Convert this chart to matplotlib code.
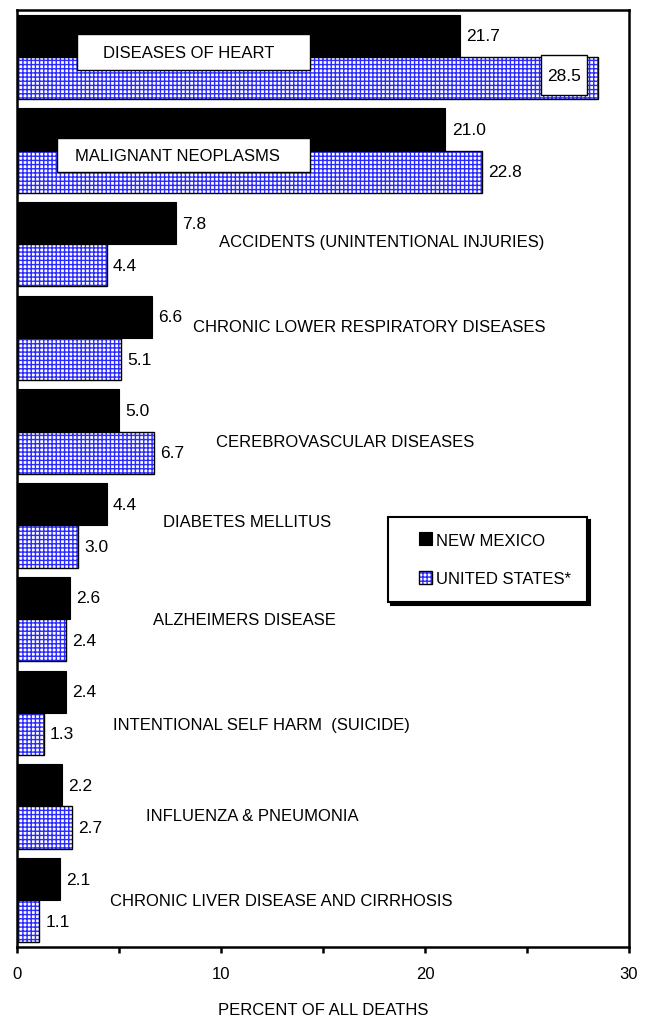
import matplotlib
matplotlib.use("Agg")
import matplotlib.pyplot as plt
import numpy as np
from matplotlib.patches import Patch, Rectangle
from matplotlib.legend_handler import HandlerPatch

plt.rcParams['font.family'] = ['Liberation Sans', 'DejaVu Sans']
plt.rcParams['hatch.linewidth'] = 1.0

categories = ["DISEASES OF HEART", "MALIGNANT NEOPLASMS",
              "ACCIDENTS (UNINTENTIONAL INJURIES)",
              "CHRONIC LOWER RESPIRATORY DISEASES",
              "CEREBROVASCULAR DISEASES", "DIABETES MELLITUS",
              "ALZHEIMERS DISEASE", "INTENTIONAL SELF HARM  (SUICIDE)",
              "INFLUENZA & PNEUMONIA", "CHRONIC LIVER DISEASE AND CIRRHOSIS"]
new_mexico = [21.7, 21.0, 7.8, 6.6, 5.0, 4.4, 2.6, 2.4, 2.2, 2.1]
united_states = [28.5, 22.8, 4.4, 5.1, 6.7, 3.0, 2.4, 1.3, 2.7, 1.1]
series_labels = ["NEW MEXICO", "UNITED STATES*"]
x_ticks = [0, 10, 20, 30]
x_label = "PERCENT OF ALL DEATHS"

BLUE = '#2a2aff'
W, H = 650, 1020
fig = plt.figure(figsize=(W / 100, H / 100), dpi=100)
ax = fig.add_axes([17 / W, 72 / H, 612 / W, 937 / H])

y = np.arange(len(categories))
h = 0.45
ax.barh(y - h / 2, new_mexico, height=h, color='black', edgecolor='black',
        linewidth=0.8, zorder=2)
ax.barh(y + h / 2, united_states, height=h, color='white', edgecolor=BLUE,
        hatch='++++', linewidth=0, zorder=2)
ax.barh(y + h / 2, united_states, height=h, fill=False, edgecolor='black',
        linewidth=1.0, zorder=3)

ax.set_xlim(0, 30)
ax.set_ylim(len(categories) - 0.5, -0.5)
ax.set_yticks([])
ax.set_xticks(x_ticks)
ax.set_xticks([5, 15, 25], minor=True)
ax.tick_params(axis='x', which='both', direction='out', length=4, width=1.8,
               pad=10, labelsize=12)
for s in ax.spines.values():
    s.set_linewidth(1.8)
ax.set_xlabel(x_label, fontsize=12, labelpad=15)

# value labels
for i, v in enumerate(new_mexico):
    ax.annotate(f"{v:.1f}", (v, i - h / 2), xytext=(4.5, 0),
                textcoords='offset points', va='center', ha='left',
                fontsize=12.5, zorder=5)
for i, v in enumerate(united_states):
    if i == 0:
        continue
    ax.annotate(f"{v:.1f}", (v, i + h / 2), xytext=(4.5, 0),
                textcoords='offset points', va='center', ha='left',
                fontsize=12.5, zorder=5)
# boxed label inside heart US bar
ax.add_patch(Rectangle((25.69, -0.02), 2.25, 0.427, facecolor='white',
                       edgecolor='black', linewidth=1.0, zorder=4))
ax.text(26.82, 0.195, f"{united_states[0]:.1f}", ha='center', va='center',
        fontsize=12.5, zorder=5)

# category labels
lab_x = [4.22, 2.84, 9.9, 8.63, 9.75, 7.16, 6.67, 4.7, 6.32, 4.56]
lab_dy = [-0.05, 0.05, -0.03, -0.12, 0.1, -0.04, 0.0, 0.13, 0.1, 0.0]
for i, name in enumerate(categories):
    ax.text(lab_x[i], i + lab_dy[i], name, ha='left', va='center',
            fontsize=12, zorder=5)
ax.add_patch(Rectangle((2.94, -0.244), 14.36 - 2.94, 0.384, facecolor='white',
                       edgecolor='black', linewidth=1.0, zorder=4))
ax.add_patch(Rectangle((1.96, 0.866), 14.36 - 1.96, 0.363, facecolor='white',
                       edgecolor='black', linewidth=1.0, zorder=4))

# legend
def square(legend, orig_handle, xdescent, ydescent, width, height, fontsize):
    s = 9.4
    return Rectangle((-xdescent + width - s, -ydescent + (height - s) / 2), s, s)

h_nm = Patch(facecolor='black', edgecolor='black', linewidth=0.8)
h_us1 = Patch(facecolor='white', edgecolor=BLUE, hatch='++++', linewidth=0)
h_us2 = Patch(fill=False, edgecolor='black', linewidth=1.0)
leg = ax.legend([h_nm, (h_us1, h_us2)], series_labels, loc='upper left',
                bbox_to_anchor=(0.606, 0.459), borderaxespad=0,
                fontsize=12, frameon=True, fancybox=False, framealpha=1,
                edgecolor='black', borderpad=0.95, labelspacing=1.4,
                handlelength=1.69, handleheight=0.7, handletextpad=0.25,
                handler_map={Patch: HandlerPatch(patch_func=square)},
                shadow={'ox': 2.2, 'oy': -2.2, 'facecolor': 'black',
                        'edgecolor': 'black', 'alpha': 1})
leg.get_frame().set_linewidth(1.5)
leg.set_zorder(6)

fig.savefig("out.png", dpi=100)
